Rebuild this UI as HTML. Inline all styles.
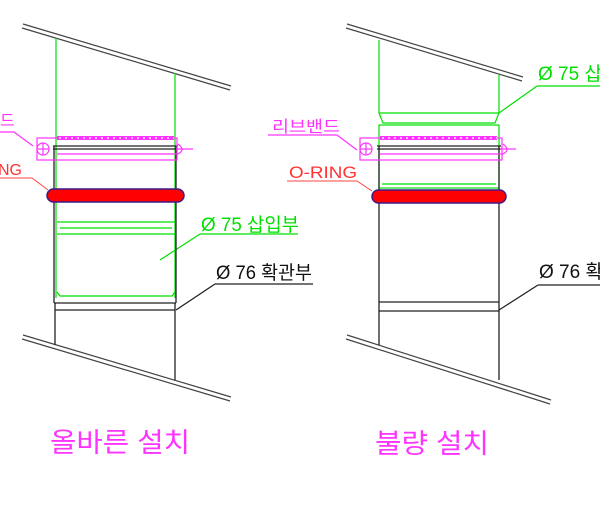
<!DOCTYPE html>
<html><head><meta charset="utf-8"><style>
body{margin:0;background:#fff;width:600px;height:500px;overflow:hidden}
text{font-family:"Liberation Sans","Noto Sans CJK KR",sans-serif}
</style></head><body>
<svg width="600" height="500" viewBox="0 0 600 500" xmlns="http://www.w3.org/2000/svg">
<g stroke="#444" stroke-width="1.2" fill="none">
<line x1="23" y1="24" x2="231" y2="86"/><line x1="22" y1="28" x2="230" y2="90"/>
<line x1="23" y1="335" x2="231" y2="397"/><line x1="22" y1="339" x2="230" y2="401"/>
<line x1="347" y1="24" x2="523" y2="77"/><line x1="346" y1="28" x2="522" y2="81"/>
<line x1="347" y1="335" x2="551" y2="400"/><line x1="346" y1="339" x2="550" y2="404"/>
</g>
<!-- LEFT -->
<g stroke="#00e000" stroke-width="1.2" fill="none">
<line x1="56" y1="38" x2="56" y2="298"/><line x1="175" y1="73" x2="175" y2="298"/>
<line x1="57" y1="222" x2="175" y2="222"/><line x1="60" y1="228" x2="172" y2="228"/>
<line x1="57" y1="234" x2="175" y2="234"/>
<path d="M57 292 L60 296 L172 296 L175 292"/>
<line x1="160" y1="260" x2="200" y2="234"/><line x1="200" y1="234" x2="298" y2="234"/>
</g>
<g stroke="#222" stroke-width="1.3" fill="none">
<line x1="54" y1="146" x2="54" y2="303"/><line x1="176" y1="146" x2="176" y2="303"/>
<line x1="54" y1="303" x2="176" y2="303"/><line x1="55" y1="310" x2="175" y2="310"/>
<line x1="55" y1="303" x2="55" y2="345"/><line x1="175" y1="303" x2="175" y2="380"/>
<line x1="53" y1="146" x2="178" y2="146"/><line x1="53" y1="149" x2="178" y2="149"/>
<line x1="176" y1="310" x2="215" y2="284"/><line x1="215" y1="284" x2="313" y2="284"/>
</g>
<g stroke="#ff33ff" stroke-width="1.2" fill="none">
<rect x="37" y="138" width="140" height="22"/>
<line x1="57" y1="138" x2="174" y2="138" stroke-width="4"/>
<line x1="59" y1="138" x2="174" y2="138" stroke="#fff" stroke-width="1.3" stroke-dasharray="2 4"/>
<path d="M57 154 L178 154 Q186 150 178 144"/><line x1="176" y1="149" x2="193" y2="149"/>
<circle cx="43" cy="149" r="6"/><line x1="37" y1="149" x2="49" y2="149"/><line x1="43" y1="143" x2="43" y2="155"/>
<path d="M0 132 L14 132 L33 146"/>
</g>
<path d="M0 178 L32 178 L48 190" stroke="#ff4444" stroke-width="1" fill="none"/>
<rect x="47" y="189" width="137" height="13" rx="6.5" fill="#ff0000" stroke="#3a1a8a" stroke-width="1.5"/>
<text x="0" y="126" font-size="16" fill="#ff33ff">드</text>
<text x="-2" y="175" font-size="16" fill="#ff3333">NG</text>
<text x="201" y="231" font-size="19" fill="#00e000" textLength="98" lengthAdjust="spacingAndGlyphs">Ø 75 삽입부</text>
<text x="216" y="279" font-size="19" fill="#111" textLength="96" lengthAdjust="spacingAndGlyphs">Ø 76 확관부</text>
<text x="50" y="452" font-size="27" fill="#ff33ff" textLength="140" lengthAdjust="spacingAndGlyphs">올바른 설치</text>
<!-- RIGHT -->
<g stroke="#00e000" stroke-width="1.2" fill="none">
<line x1="379" y1="40" x2="379" y2="113"/><line x1="499" y1="75" x2="499" y2="113"/>
<line x1="379" y1="113" x2="499" y2="113"/>
<path d="M379 113 L383 123 L495 123 L499 113"/>
<rect x="379" y="125" width="120" height="63"/>
<line x1="382" y1="184" x2="496" y2="184"/>
<line x1="499" y1="113" x2="537" y2="86"/><line x1="537" y1="86" x2="600" y2="86"/>
</g>
<g stroke="#222" stroke-width="1.3" fill="none">
<line x1="379" y1="146" x2="379" y2="311"/><line x1="499" y1="146" x2="499" y2="311"/>
<line x1="379" y1="302" x2="499" y2="302"/><line x1="379" y1="311" x2="499" y2="311"/>
<line x1="379" y1="311" x2="379" y2="345"/><line x1="499" y1="311" x2="499" y2="380"/>
<line x1="377" y1="146" x2="501" y2="146"/><line x1="377" y1="149" x2="501" y2="149"/>
<line x1="499" y1="310" x2="538" y2="285"/><line x1="538" y1="285" x2="600" y2="285"/>
</g>
<g stroke="#ff33ff" stroke-width="1.2" fill="none">
<rect x="360" y="138" width="142" height="22"/>
<line x1="380" y1="138" x2="497" y2="138" stroke-width="4"/>
<line x1="382" y1="138" x2="497" y2="138" stroke="#fff" stroke-width="1.3" stroke-dasharray="2 4"/>
<path d="M380 154 L503 154 Q511 150 503 144"/><line x1="500" y1="149" x2="516" y2="149"/>
<circle cx="366" cy="149" r="6"/><line x1="360" y1="149" x2="372" y2="149"/><line x1="366" y1="143" x2="366" y2="155"/>
<path d="M268 135 L337 135 L357 150"/>
</g>
<path d="M287 181 L357 181 L372 191" stroke="#ff4444" stroke-width="1" fill="none"/>
<rect x="372" y="190" width="134" height="13" rx="6.5" fill="#ff0000" stroke="#3a1a8a" stroke-width="1.5"/>
<text x="272" y="132" font-size="16" fill="#ff33ff" textLength="68" lengthAdjust="spacingAndGlyphs">리브밴드</text>
<text x="289" y="178" font-size="17" fill="#ff3333" textLength="68" lengthAdjust="spacingAndGlyphs">O-RING</text>
<text x="538" y="80" font-size="19" fill="#00e000">Ø 75 삽</text>
<text x="539" y="278" font-size="19" fill="#111">Ø 76 확</text>
<text x="375" y="453" font-size="27" fill="#ff33ff" textLength="114" lengthAdjust="spacingAndGlyphs">불량 설치</text>
</svg>
</body></html>
